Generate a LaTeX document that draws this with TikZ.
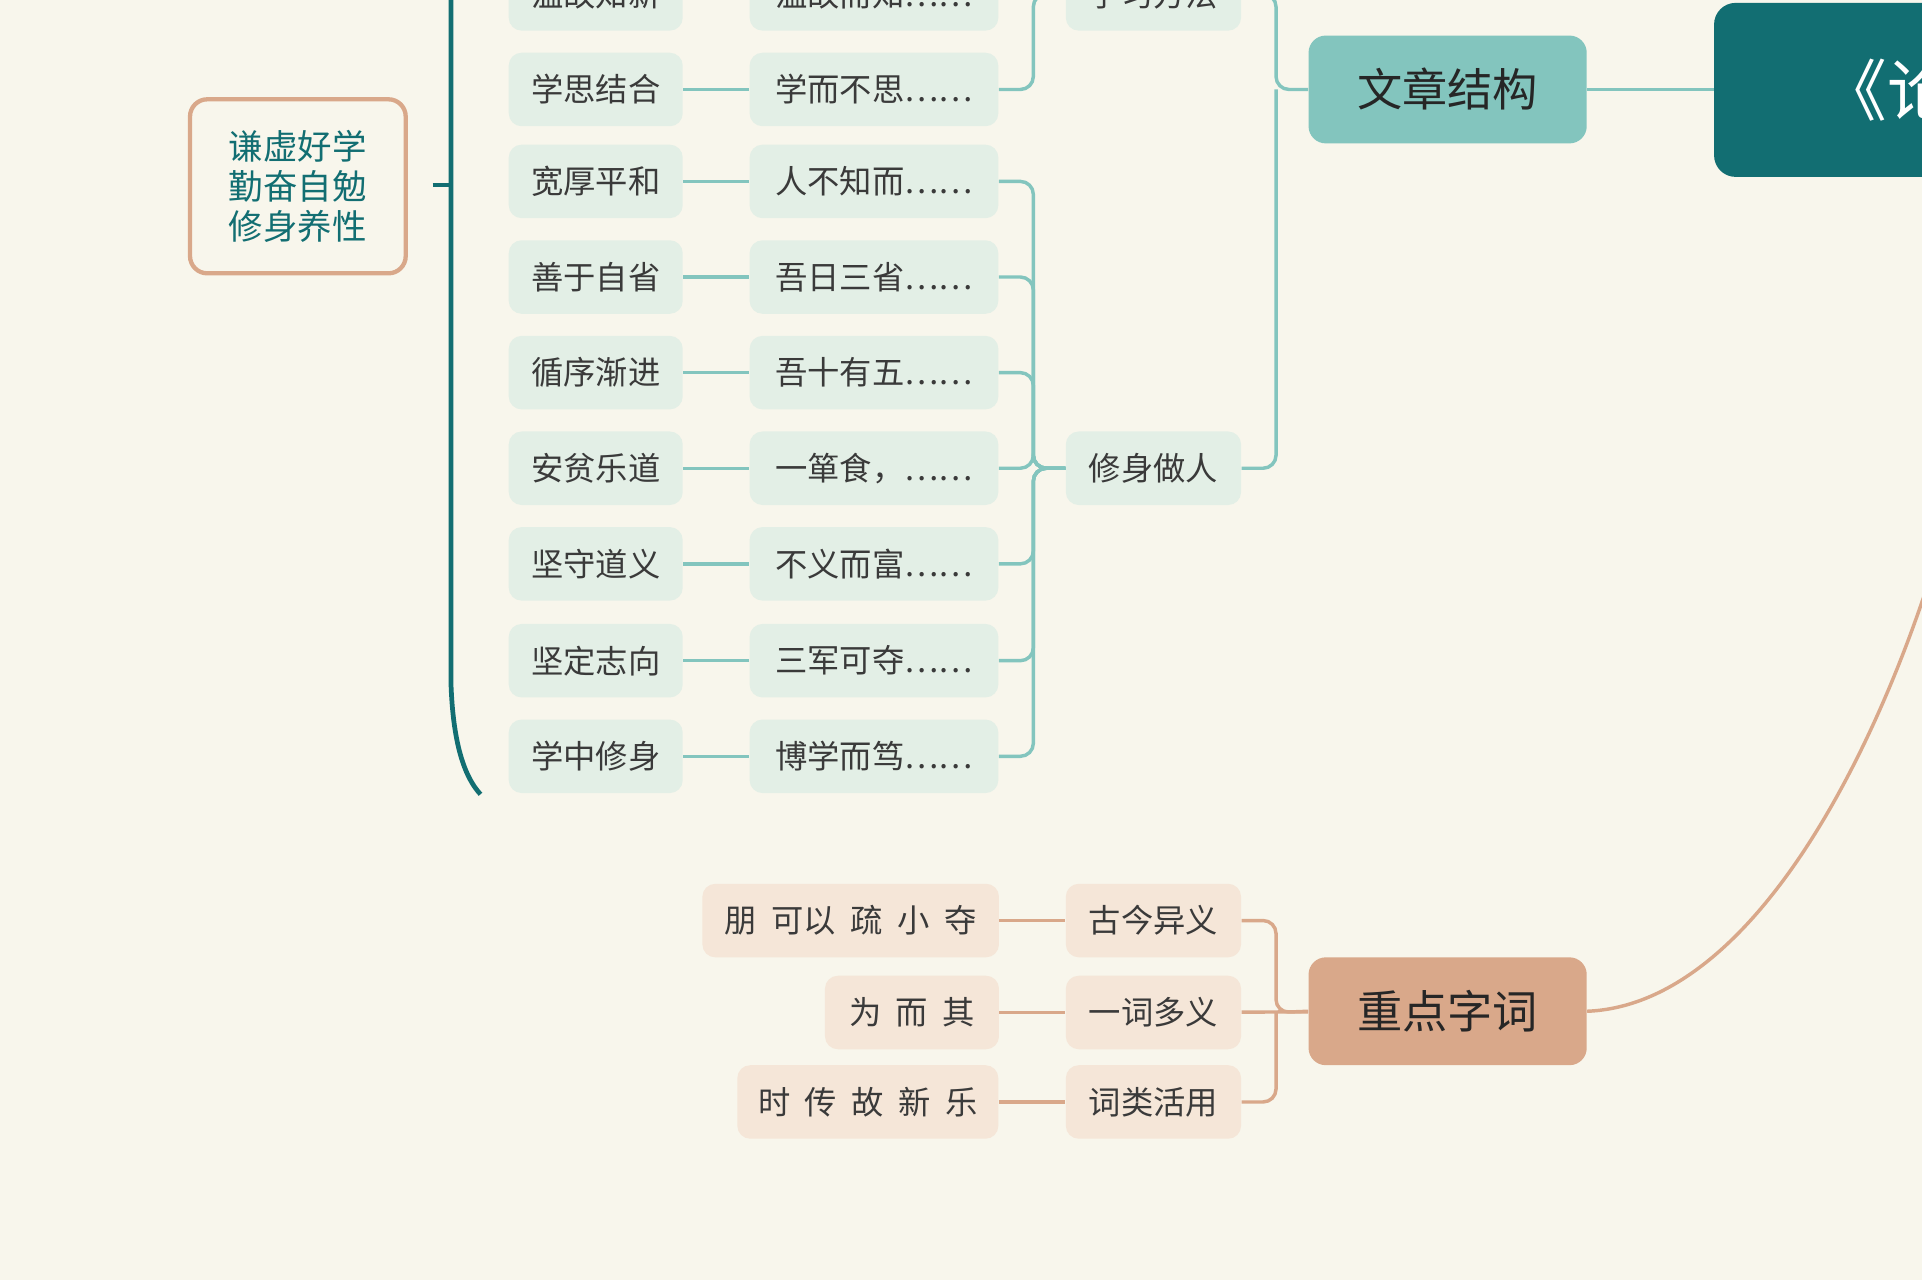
\documentclass[tikz,border=0pt]{standalone}
\usepackage{fontspec}
\newfontfamily\cjk{Noto Sans CJK SC}
\definecolor{bgcol}{HTML}{F8F6EC}
\definecolor{teal1}{HTML}{126E72}
\definecolor{teal2}{HTML}{83C5BE}
\definecolor{teal3}{HTML}{E3EFE6}
\definecolor{tan1}{HTML}{D9A88A}
\definecolor{tan2}{HTML}{F5E6D8}
\definecolor{txt}{HTML}{3A3A3A}
\tikzset{
    leafnode/.style={
        rounded corners=6pt,
        fill=teal3, % 浅绿底
        minimum height=1.2cm,
        inner sep=0,
        font=\cjk\fontsize{15}{15}\selectfont,
        text=txt
    },
    tannode/.style={
        leafnode,
        fill=tan2
    },
    mainnode/.style={
        rounded corners=8pt,
        minimum width=4.54cm,
        minimum height=1.76cm,
        font=\cjk\fontsize{21}{21}\selectfont,
        text=black!85
    },
    tline/.style={teal2, line width=1.6pt},
    bline/.style={tan1, line width=1.6pt}
}
\begin{document}
\begin{tikzpicture}[x=0.02cm, y=-0.02cm]
    \fill[bgcol] (0,0) rectangle (1568,1044);
    \useasboundingbox (0,0) rectangle (1568,1044);
    \clip (0,0) rectangle (1568,1044);
    % 根节点
    \node[rounded corners=10pt, fill=teal1, minimum width=11.1cm, minimum height=2.84cm,
          anchor=north west, text=white, font=\cjk\fontsize{31}{31}\selectfont] (root) at (1398,2) {《论语》十二章};
    \node[mainnode, fill=teal2] (jg) at (1181,73) {文章结构};
    \node[mainnode, fill=tan1] (zd) at (1181,825) {重点字词};
    % 左列与中列
    \foreach \y/\a/\b [count=\i] in {-5/温故知新/温故而知……, 73/学思结合/学而不思……,
        148/宽厚平和/人不知而……, 226/善于自省/吾日三省……, 304/循序渐进/吾十有五……,
        382/安贫乐道/一箪食，……, 460/坚守道义/不义而富……, 539/坚定志向/三军可夺……,
        617/学中修身/博学而笃……}{
        \node[leafnode, minimum width=2.84cm] (a\i) at (486,\y) {\a};
        \node[leafnode, minimum width=4.06cm] (b\i) at (713,\y) {\b};
        \draw[tline] (a\i) -- (b\i);
    }
    \node[leafnode, minimum width=2.86cm] (xx) at (941,-5) {学习方法};
    \node[leafnode, minimum width=2.86cm] (xs) at (941,382) {修身做人};
    % 括号连线
    \foreach \i in {1,2}{
        \draw[tline, rounded corners=6pt] (b\i.east) -- (843,\i*78-83) -- (843,-5) -- (xx.west);
    }
    \foreach \i in {3,...,9}{
        \draw[tline, rounded corners=6pt] (b\i.east) -| (843,382) -- (xs.west);
    }
    \draw[tline, rounded corners=6pt] (xx.east) -| (1041,73) -- (jg.west);
    \draw[tline, rounded corners=6pt] (xs.east) -| (1041,73);
    \draw[tline] (jg.east) -- (root.west |- jg.east);
    % 重点字词
    \node[tannode, minimum width=2.86cm] (gj) at (941,751) {古今异义};
    \node[tannode, minimum width=2.86cm] (yc) at (941,826) {一词多义};
    \node[tannode, minimum width=2.86cm] (ch) at (941,899) {词类活用};
    \node[tannode, minimum width=4.84cm] (g1) at (694,751) {朋\ \ 可以\ \ 疏\ \ 小\ \ 夺};
    \node[tannode, minimum width=2.84cm] (y1) at (744,826) {为\ \ 而\ \ 其};
    \node[tannode, minimum width=4.26cm] (c1) at (708,899) {时\ \ 传\ \ 故\ \ 新\ \ 乐};
    \draw[bline] (g1) -- (gj);
    \draw[bline] (y1) -- (yc);
    \draw[bline] (c1) -- (ch);
    \draw[bline, rounded corners=6pt] (gj.east) -| (1041,826) -- (zd.west);
    \draw[bline, rounded corners=6pt] (ch.east) -| (1041,826);
    \draw[bline] (yc) -- (zd);
    \coordinate (rb) at (1575,470);
    \draw[bline] (zd.east) .. controls (1420,820) and (1520,640) .. (rb);
    % 左侧总结
    \draw[teal1, line width=2.2pt] (368,-10) -- (368,560) .. controls (370,610) and (380,635) .. (392,648);
    \coordinate (tk) at (353,151);
    \draw[teal1, line width=2.2pt] (tk) -- (368,151);
    \node[draw=tan1, line width=2pt, rounded corners=8pt, fill=bgcol, minimum width=3.52cm,
          minimum height=2.84cm, align=center, text=teal1,
          font=\cjk\fontsize{16}{18.5}\selectfont] (sum) at (243,152) {谦虚好学\\勤奋自勉\\修身养性};
\end{tikzpicture}
\end{document}
